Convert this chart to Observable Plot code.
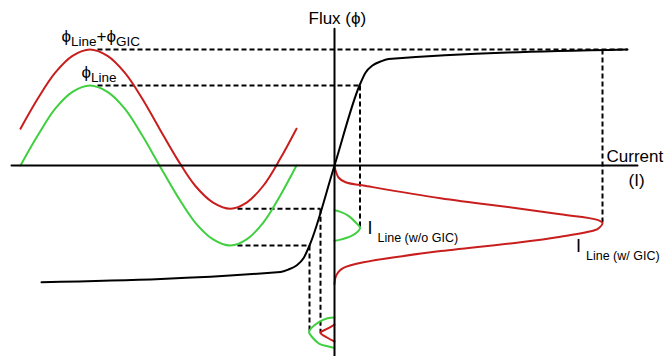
<!DOCTYPE html>
<html>
<head>
<meta charset="utf-8">
<script src="https://cdn.jsdelivr.net/npm/d3@7"></script>
<script src="https://cdn.jsdelivr.net/npm/@observablehq/plot@0.6"></script>
<style>
  html, body { margin: 0; padding: 0; background: #fff; }
  #chart svg { display: block; }
</style>
</head>
<body>
<div id="chart"></div>
<script>
// Units: x = current (or time for the left waveforms), y = flux (or time, downward, for the current waveforms)

// Flux waveform with GIC (red) vs time
const fluxWithGIC = [
  [-12.56, 0.46], [-11.86, 0.84], [-11.17, 1.16], [-10.48, 1.37], [-9.78, 1.45],
  [-9.08, 1.37], [-8.39, 1.16], [-7.70, 0.84], [-7.00, 0.46], [-6.29, 0.08],
  [-5.58, -0.25], [-4.87, -0.46], [-4.16, -0.54], [-3.50, -0.46], [-2.84, -0.25],
  [-2.18, 0.08], [-1.52, 0.46]
];
// Flux waveform without GIC (green) vs time
const fluxLine = [
  [-12.56, 0.00], [-11.86, 0.38], [-11.17, 0.71], [-10.48, 0.92], [-9.78, 1.00],
  [-9.08, 0.92], [-8.39, 0.71], [-7.70, 0.38], [-7.00, 0.00], [-6.29, -0.38],
  [-5.58, -0.71], [-4.87, -0.92], [-4.16, -1.00], [-3.50, -0.92], [-2.84, -0.71],
  [-2.18, -0.38], [-1.52, 0.00]
];
// Magnetisation (saturation) curve: current vs flux
const satCurve = [
  [-11.72, -1.46], [-2.16, -1.33], [-1.84, -1.30], [-1.52, -1.25], [-1.24, -1.16],
  [-1.00, -1.00], [0.00, 0.00], [1.00, 1.00], [1.24, 1.16], [1.52, 1.25],
  [1.84, 1.30], [2.16, 1.33], [11.72, 1.45]
];
// Current waveform with GIC (red): large positive lobe and small negative lobe
const currentWithGIC = [
  [0.00, 0.00], [0.04, -0.06], [0.16, -0.15], [0.44, -0.21], [1.16, -0.25],
  [4.24, -0.41], [7.44, -0.54], [9.04, -0.61], [10.52, -0.68], [10.72, -0.72],
  [10.58, -0.78], [10.40, -0.81], [9.04, -0.89], [7.44, -0.96], [4.24, -1.07],
  [1.16, -1.21], [0.36, -1.28], [0.16, -1.33], [0.04, -1.40], [0.00, -1.48]
];
const currentWithGICNeg = [
  [0.00, -1.99], [-0.28, -2.04], [-0.56, -2.09], [-0.30, -2.15], [0.00, -2.20]
];
// Current waveform without GIC (green): symmetric small lobes
const currentLinePos = [
  [0.00, -0.56], [0.24, -0.58], [0.56, -0.63], [0.84, -0.71], [1.02, -0.78],
  [0.84, -0.85], [0.52, -0.90], [0.20, -0.93], [0.00, -0.94]
];
const currentLineNeg = [
  [0.00, -1.90], [-0.28, -1.91], [-0.64, -1.96], [-0.92, -2.03], [-1.02, -2.08],
  [-0.88, -2.15], [-0.60, -2.23], [-0.28, -2.26], [0.00, -2.28]
];
// Projection (dashed) segments
const dashed = [
  {x1: -9.48, y1: 1.45, x2: 11.72, y2: 1.45},
  {x1: 10.72, y1: 1.45, x2: 10.72, y2: -0.71},
  {x1: -9.48, y1: 1.00, x2: 1.02, y2: 1.00},
  {x1: 1.02, y1: 1.00, x2: 1.02, y2: -0.78},
  {x1: -3.88, y1: -0.54, x2: -0.56, y2: -0.54},
  {x1: -0.56, y1: -0.54, x2: -0.56, y2: -2.09},
  {x1: -3.88, y1: -1.00, x2: -1.00, y2: -1.00},
  {x1: -1.00, y1: -1.00, x2: -1.00, y2: -2.07}
];
// Axes extents
const axisH = [[-12.92, 0], [12.12, 0]];
const axisV = [[0, 1.71], [0, -2.39]];
// Plain labels
const plainLabels = [
  {x: -1.04, y: 1.775, text: "Flux (ϕ)"},
  {x: 10.88, y: 0.04, text: "Current"},
  {x: 11.76, y: -0.26, text: "(I)"}
];
// Labels with subscripts: parts [text, isSubscript]
const phiLabels = [
  {x: -10.92, y: 1.55, parts: [["ϕ", 0], ["Line", 1], ["+ϕ", 0], ["GIC", 1]]},
  {x: -10.12, y: 1.10, parts: [["ϕ", 0], ["Line", 1]]}
];
const iLabels = [
  {x: 1.32, y: -0.85, parts: [["I", 0], ["Line (w/o GIC)", 1]]},
  {x: 9.66, y: -1.075, parts: [["I", 0], ["Line (w/ GIC)", 1]]}
];

const RED = "#c81e1e", GREEN = "#3fcf3f";
const FONT = "'Liberation Sans', Arial, Helvetica, sans-serif";
const join = d => d.parts.map(p => p[0]).join("");

const svg = Plot.plot({
  width: 669, height: 356, margin: 0,
  x: {domain: [-13.36, 13.4], axis: null},
  y: {domain: [-2.3875, 2.0625], axis: null},
  style: {background: "#fff", fontFamily: FONT, color: "#000"},
  marks: [
    Plot.link(dashed, {x1: "x1", y1: "y1", x2: "x2", y2: "y2", stroke: "#000", strokeWidth: 2, strokeDasharray: "5,3"}),
    Plot.line(fluxWithGIC, {curve: "catmull-rom", stroke: RED, strokeWidth: 2}),
    Plot.line(fluxLine, {curve: "catmull-rom", stroke: GREEN, strokeWidth: 2}),
    Plot.line(currentWithGIC, {curve: "catmull-rom", stroke: RED, strokeWidth: 2}),
    Plot.line(currentWithGICNeg, {curve: "catmull-rom", stroke: RED, strokeWidth: 2}),
    Plot.line(currentLinePos, {curve: "catmull-rom", stroke: GREEN, strokeWidth: 2}),
    Plot.line(currentLineNeg, {curve: "catmull-rom", stroke: GREEN, strokeWidth: 2}),
    Plot.line(satCurve, {curve: "monotone-x", stroke: "#000", strokeWidth: 2}),
    Plot.line(axisH, {stroke: "#000", strokeWidth: 2}),
    Plot.line(axisV, {stroke: "#000", strokeWidth: 2}),
    Plot.text(plainLabels, {x: "x", y: "y", text: "text", textAnchor: "start", lineAnchor: "bottom", fontSize: 17, fill: "#000"}),
    Plot.text(phiLabels, {x: "x", y: "y", text: join, textAnchor: "start", lineAnchor: "bottom", fontSize: 17, fill: "#000"}),
    Plot.text(iLabels, {x: "x", y: "y", text: join, textAnchor: "start", lineAnchor: "bottom", fontSize: 18, fill: "#000"})
  ]
});

// Turn subscript parts into tspans (matched by text content)
function subscript(data, subSize, shift, gap) {
  const texts = Array.from(svg.querySelectorAll("text"));
  data.forEach(d => {
    const full = join(d);
    const t = texts.find(el => el.textContent === full);
    if (!t) return;
    while (t.firstChild) t.removeChild(t.firstChild);
    let cur = 0;
    d.parts.forEach(([s, sub]) => {
      const ts = document.createElementNS("http://www.w3.org/2000/svg", "tspan");
      ts.textContent = s;
      const target = sub ? shift : 0;
      if (target !== cur) ts.setAttribute("dy", target - cur);
      cur = target;
      if (sub) { ts.setAttribute("font-size", subSize); if (gap) ts.setAttribute("dx", gap); }
      t.appendChild(ts);
    });
  });
}
subscript(phiLabels, 13.5, 4, 0);
subscript(iLabels, 12.5, 8, 5);

document.getElementById("chart").appendChild(svg);
</script>
</body>
</html>
